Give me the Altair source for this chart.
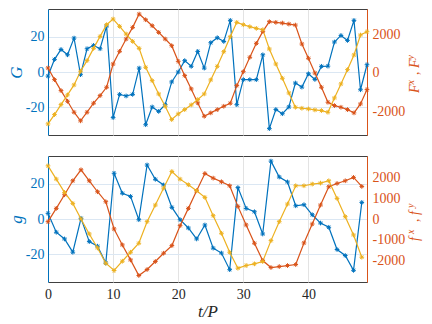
import altair as alt
import pandas as pd

# ---------------- data ----------------
t_top = list(range(50))
G = [-2.3, 7.1, 12.7, 9.7, 19.1, -1.5, 13.1, 15.0, 13.1, 25.9,
     -25.7, -12.6, -13.5, -12.6, 2.2, -29.7, -19.7, -22.2, -18.4, -5.6,
     0.0, 6.4, 3.2, 11.6, 2.2, 16.5, 19.3, 17.2, 29.1, -18.4,
     -4.3, -4.3, -4.3, 9.7, -31.9, -21.1, -23.5, -19.7, -6.2, -8.5,
     -1.0, -4.2, 3.2, 3.3, 16.9, 20.6, 17.8, 29.1, -10.0, 4.1]
Fx = [258, -343, -910, -1460, -2025, -2470, -2025, -1560, -1168, -738,
      464, 1116, 1751, 2352, 3038, 2747, 2438, 2094, 1751, 1408,
      601, -137, -824, -1545, -2232, -2060, -1889, -1717, -1562, -652,
      69, 808, 1528, 2146, 2644, 2610, 2576, 2524, 2472, 1494,
      757, 0, -738, -1510, -1682, -1768, -1889, -2060, -1597, -858]
Fy = [-2627, -2146, -1631, -1133, -618, 90, 636, 1270, 1888, 2490,
      2781, 2404, 2009, 1631, 1270, 292, -395, -1081, -1717, -2404,
      -2112, -1889, -1648, -1373, -1081, -360, 343, 1099, 1871, 2610,
      2490, 2387, 2300, 2232, 1236, 464, -275, -1030, -1768, -1820,
      -1854, -1906, -1940, -2025, -1288, -567, 172, 927, 1957, 2129]

t_bot = [0.00, 1.27, 2.54, 3.81, 5.07, 6.34, 7.61, 8.88, 10.15, 11.42,
         12.68, 13.95, 15.22, 16.49, 17.76, 19.03, 20.29, 21.56, 22.83, 24.10,
         25.37, 26.64, 27.91, 29.17, 30.44, 31.71, 32.98, 34.25, 35.52, 36.79,
         38.05, 39.32, 40.59, 41.86, 43.13, 44.40, 45.66, 46.93, 48.20]
g = [3.2, -7.5, -11.3, -18.8, 0.4, -12.8, -15.4, -25.0, 25.9, 14.6,
     12.8, -0.4, 30.6, 22.5, 19.3, 6.6, -0.4, -5.1, -11.3, -3.4,
     -16.5, -19.3, -28.7, 17.8, 6.0, 4.1, -8.5, 32.8, 23.8, 21.0,
     7.5, 8.1, 2.4, -2.3, -4.7, -17.3, -20.7, -29.1, 9.4]
fx = [-129, 511, 1167, 1838, 2366, 1838, 1311, 831, -480, -1247,
      -1966, -2718, -2430, -2046, -1646, -1279, -320, 511, 1359, 2190,
      1966, 1790, 1599, 607, -288, -1167, -2000, -2334, -2286, -2238,
      -2190, -1151, -240, 671, 1551, 1710, 1838, 2000, 1567]
fy = [2557, 1918, 1279, 751, 0, -719, -1391, -2126, -2478, -2030,
      -1599, -1167, -128, 671, 1487, 2286, 1918, 1647, 1359, 1040,
      160, -687, -1599, -2366, -2238, -2158, -2046, -1040, -128, 719,
      1599, 1599, 1679, 1727, 1838, 991, 112, -767, -1838]

x_ticks = [0, 10, 20, 30, 40]
top_left_ticks = [-20, 0, 20]
top_right_ticks = [-2000, 0, 2000]
bot_left_ticks = [-20, 0, 20]
bot_right_ticks = [-2000, -1000, 0, 1000, 2000]

# right-axis titles, glyph by glyph (main letter, superscript, comma, main, superscript)
top_right_title = ["F", "x", ",", "F", "y"]
bot_right_title = ["f", "x", ",", "f", "y"]

BLUE = "#0072BD"
ORANGE = "#D95319"
YELLOW = "#EDB120"
FONT = "Liberation Serif"
STAR = "M-1,0L1,0M0,-1L0,1M-0.7,-0.7L0.7,0.7M-0.7,0.7L0.7,-0.7"

W, H = 319, 126


def glyph(txt, px, py, size):
    return alt.Chart(pd.DataFrame({"k": [0]})).mark_text(
        text=txt, angle=270, align="left", baseline="alphabetic", font=FONT,
        fontStyle="italic", fontSize=size, color=ORANGE
    ).encode(x=alt.value(px), y=alt.value(py))


def right_title(chars, ys):
    xs = [W + 52, W + 47, W + 52, W + 52, W + 47]
    sizes = [14, 10, 14, 14, 10]
    return [glyph(c, x, y, s) for c, x, y, s in zip(chars, xs, ys, sizes)]


def panel(t, left, rx, ry, left_title, rchars, rys, ldom, rdom, lticks, rticks, bottom):
    dl = pd.DataFrame({"t": t, "v": left})
    dr = pd.concat([
        pd.DataFrame({"t": t, "v": rx, "s": "x"}),
        pd.DataFrame({"t": t, "v": ry, "s": "y"}),
    ])
    xaxis = alt.Axis(values=x_ticks, grid=True, gridColor="#e3e3e3", ticks=False,
                     domain=False, labels=bottom, labelFont=FONT, labelFontSize=14,
                     labelColor="#262626", labelPadding=5, labelFlush=False,
                     title="t/P" if bottom else None, titleFont=FONT,
                     titleFontStyle="italic", titleFontWeight="normal",
                     titleFontSize=17, titleColor="#262626", titlePadding=2)
    x = alt.X("t:Q", scale=alt.Scale(domain=[0, 49], nice=False, zero=False),
              axis=xaxis)
    yl = alt.Y("v:Q", scale=alt.Scale(domain=ldom, nice=False, zero=False),
               axis=alt.Axis(orient="left", values=lticks, grid=True,
                             gridColor="#dbe7f3", ticks=False, domainColor=BLUE,
                             labelColor=BLUE, labelFont=FONT, labelFontSize=14,
                             labelPadding=4, labelExpr="'' + datum.value",
                             title=left_title, titleColor=BLUE, titleFont=FONT,
                             titleFontStyle="italic", titleFontWeight="normal",
                             titleFontSize=17, titlePadding=0))
    yr = alt.Y("v:Q", scale=alt.Scale(domain=rdom, nice=False, zero=False),
               axis=alt.Axis(orient="right", values=rticks, grid=False,
                             ticks=False, domainColor=ORANGE,
                             labelColor=ORANGE, labelFont=FONT, labelFontSize=14,
                             labelPadding=5, labelExpr="'' + datum.value",
                             title=None))
    col = alt.Color("s:N", scale=alt.Scale(domain=["x", "y"], range=[ORANGE, YELLOW]),
                    legend=None)
    lbase = alt.Chart(dl).encode(x=x, y=yl)
    lchart = alt.layer(
        lbase.mark_line(color=BLUE, strokeWidth=1.2),
        lbase.mark_point(shape=STAR, color=BLUE, size=22, strokeWidth=1, filled=False, opacity=1),
    )
    rbase = alt.Chart(dr).encode(x=x, y=yr, color=col)
    rchart = alt.layer(
        rbase.mark_line(strokeWidth=1.2),
        rbase.mark_point(shape=STAR, size=22, strokeWidth=1, filled=False, opacity=1),
    )
    return alt.layer(lchart, rchart, *right_title(rchars, rys)).resolve_scale(
        y="independent").properties(width=W, height=H)


top = panel(t_top, G, Fx, Fy, "G", top_right_title, [84, 75.5, 66, 59, 50.5],
            [-35.5, 35.5], [-3200, 3300], top_left_ticks, top_right_ticks, False)
bot = panel(t_bot, g, fx, fy, "g", bot_right_title, [85, 78, 66, 59, 52],
            [-35.7, 35.7], [-3030, 3030], bot_left_ticks, bot_right_ticks, True)

chart = alt.vconcat(top, bot, spacing=21, bounds="flush").properties(
    padding={"left": -2, "top": 0, "right": 0, "bottom": 0},
).configure_view(stroke="#404040", strokeWidth=1)

chart.save("out.html", embed_options={"renderer": "svg", "actions": False})
